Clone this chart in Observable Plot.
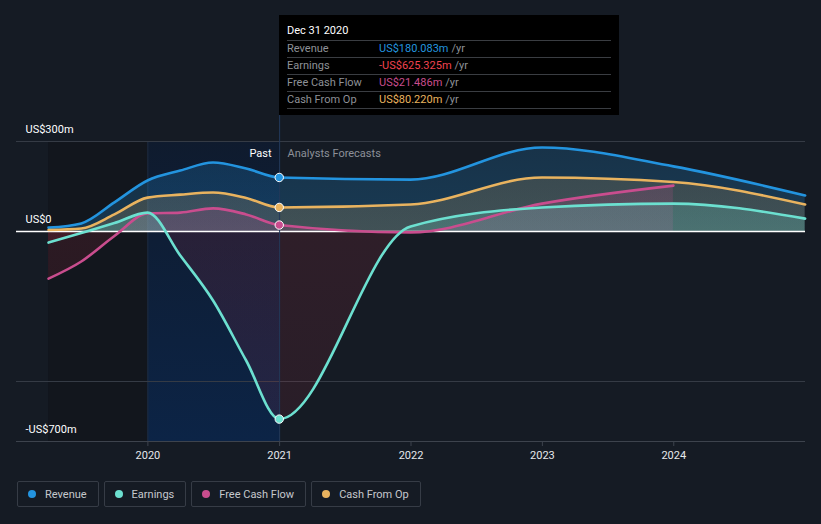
<!DOCTYPE html>
<html>
<head>
<meta charset="utf-8">
<script src="https://cdn.jsdelivr.net/npm/d3@7"></script>
<script src="https://cdn.jsdelivr.net/npm/@observablehq/plot@0.6"></script>
<style>
  html, body { margin: 0; padding: 0; background: #151b24; width: 821px; height: 524px; overflow: hidden; font-family: Roboto, "Noto Sans", sans-serif; }
  #wrap { position: relative; width: 821px; height: 524px; }
  #chart svg { display: block; }
  #tip { position: absolute; left: 279px; top: 15px; width: 340px; height: 100px; background: #000; box-sizing: border-box; padding: 9px 8px 0 8px; font-size: 11px; }
  #tip .title { color: #fff; height: 16px; line-height: 14px; border-bottom: 1px solid #3a3d42; }
  #tip .row { height: 16px; line-height: 16px; border-bottom: 1px solid #3a3d42; display: flex; color: #8e9197; }
  #tip .row .lab { width: 92px; }
  #tip .row .unit { color: #8e9197; margin-left: 3px; }
  #legend { position: absolute; left: 17px; top: 481px; display: flex; gap: 5px; }
  #legend .item { height: 26px; box-sizing: border-box; border: 1px solid #363c46; border-radius: 2px; display: flex; align-items: center; padding: 0 11px 0 10px; color: #c5c8cd; font-size: 11px; }
  #legend .dot { width: 8px; height: 8px; border-radius: 50%; margin-right: 9px; }
</style>
</head>
<body>
<div id="wrap">
  <div id="chart"></div>
  <div id="tip"></div>
  <div id="legend"></div>
</div>
<script>
// ---- data ----
const dates = ["2019-03-31","2019-06-30","2019-09-30","2019-12-31","2020-03-31","2020-06-30","2020-09-30","2020-12-31","2021-12-31","2022-12-31","2023-12-31","2024-12-31"];
const revenue = [13, 27, 97, 170, 203, 230, 210, 180.083, 173, 280, 217, 120];
const earnings = [-37, -5, 28, 63, -80, -230, -430, -625.325, 17, 80, 93, 43];
const freeCashFlow = [-157, -100, -15, 60, 63, 77, 57, 21.486, -3, 93, 153, null];
const cashFromOp = [5, 10, 57, 113, 123, 130, 112, 80.22, 90, 180, 165, 90];

const seriesNames = ["Revenue", "Earnings", "Free Cash Flow", "Cash From Op"];
const seriesColors = ["#2394df", "#6ce0d0", "#c94d8e", "#e9b35f"];
const tooltipDate = "Dec 31 2020";
const tooltipValues = ["US$180.083m", "-US$625.325m", "US$21.486m", "US$80.220m"];
const tooltipColors = ["#2394df", "#f0434f", "#c94d8e", "#e9b35f"];
const yTickValues = [300, 0, -700];
const yTickLabels = ["US$300m", "US$0", "-US$700m"];

// ---- build ----
const parse = d3.utcParse("%Y-%m-%d");
const allValues = [revenue, earnings, freeCashFlow, cashFromOp];
const series = seriesNames.map((name, i) => ({
  name, color: seriesColors[i], key: "s" + i,
  data: dates.map((d, j) => ({date: parse(d), value: allValues[i][j]})).filter(r => r.value != null)
}));
const nowDate = parse("2021-01-01");
const pastStart = parse("2020-01-01");
const dataStart = parse(dates[0]);

const marks = [
  Plot.rect([0], {x1: () => dataStart, x2: () => pastStart, y1: () => -700, y2: () => 300, fill: "#12161d"}),
  Plot.rect([0], {x1: () => pastStart, x2: () => nowDate, y1: () => -700, y2: () => 300, fill: "url(#g-past)"}),
  Plot.ruleX([pastStart], {y1: -700, y2: 300, stroke: "#1f2c3f", strokeWidth: 1}),
  Plot.ruleY([300, -500], {stroke: "#353b45", strokeWidth: 1}),
  Plot.ruleY([-700], {stroke: "#3d434d", strokeWidth: 1})
];
// areas
for (const s of [series[0], series[3], series[2], series[1]]) {
  marks.push(Plot.areaY(s.data, {x: "date", y: "value", curve: "monotone-x", fill: `url(#g-${s.key})`}));
}
marks.push(Plot.ruleY([0], {stroke: "#ffffff", strokeWidth: 1.5}));
marks.push(Plot.ruleX([nowDate], {y1: -700, y2: 387, stroke: "#22395a", strokeWidth: 1, clip: false}));
for (const s of [series[0], series[3], series[2], series[1]]) {
  marks.push(Plot.line(s.data, {x: "date", y: "value", curve: "monotone-x", stroke: s.color, strokeWidth: 2.6}));
}
for (const s of series) {
  marks.push(Plot.dot(s.data.filter(r => +r.date === +parse("2020-12-31")), {x: "date", y: "value", r: 4.2, fill: s.color, stroke: "#ffffff", strokeWidth: 1}));
}
marks.push(Plot.text(["Past"], {x: () => nowDate, y: () => 260, text: d => d, dx: -8, textAnchor: "end", fill: "#ffffff", fontSize: 11}));
marks.push(Plot.text(["Analysts Forecasts"], {x: () => nowDate, y: () => 260, text: d => d, dx: 8, textAnchor: "start", fill: "#8c9098", fontSize: 11}));
marks.push(Plot.text(yTickValues, {y: d => d, text: (d, i) => yTickLabels[i], frameAnchor: "left", dx: 9, dy: -12, textAnchor: "start", fill: "#ffffff", fontSize: 11}));
marks.push(Plot.axisX({ticks: d3.utcYear.every(1), tickFormat: d3.utcFormat("%Y"), tickSize: 5, stroke: "#3d434d", color: "#e6e8eb", fontSize: 11, tickPadding: 5, filter: d => d.getUTCFullYear() >= 2020 && d.getUTCFullYear() <= 2024}));

const plot = Plot.plot({
  width: 821,
  height: 470,
  marginLeft: 16,
  marginRight: 16,
  marginTop: 141,
  marginBottom: 29,
  style: {background: "transparent", fontFamily: "Roboto, sans-serif"},
  x: {type: "utc", domain: [parse("2019-01-01"), parse("2025-01-01")]},
  y: {domain: [-700, 300], axis: null},
  marks
});

// gradients
const yScale = plot.scale("y");
const yTop = yScale.apply(300), yBot = yScale.apply(-700), yZero = yScale.apply(0);
const zOff = (yZero - yTop) / (yBot - yTop);
const svg = d3.select(plot);
const defs = svg.insert("defs", ":first-child");
const past = defs.append("linearGradient").attr("id", "g-past").attr("x1", 0).attr("y1", 0).attr("x2", 0).attr("y2", 1);
past.append("stop").attr("offset", 0).attr("stop-color", "#0f1b2e");
past.append("stop").attr("offset", 1).attr("stop-color", "#0c2446");
const opac = {s0: 0.16, s1: 0.14, s2: 0.12, s3: 0.12};
for (const s of series) {
  const g = defs.append("linearGradient").attr("id", "g-" + s.key).attr("gradientUnits", "userSpaceOnUse")
    .attr("x1", 0).attr("x2", 0).attr("y1", yTop).attr("y2", yBot);
  g.append("stop").attr("offset", 0).attr("stop-color", s.color).attr("stop-opacity", opac[s.key] * 1.2);
  g.append("stop").attr("offset", zOff).attr("stop-color", s.color).attr("stop-opacity", opac[s.key] * 1.6);
  g.append("stop").attr("offset", zOff).attr("stop-color", "#d8334a").attr("stop-opacity", 0.13);
  g.append("stop").attr("offset", 1).attr("stop-color", "#d8334a").attr("stop-opacity", 0.1);
}
document.getElementById("chart").appendChild(plot);

// tooltip
const tip = d3.select("#tip");
tip.append("div").attr("class", "title").text(tooltipDate);
seriesNames.forEach((n, i) => {
  const row = tip.append("div").attr("class", "row");
  row.append("span").attr("class", "lab").text(n);
  row.append("span").style("color", tooltipColors[i]).text(tooltipValues[i]);
  row.append("span").attr("class", "unit").text("/yr");
});

// legend
const lg = d3.select("#legend");
seriesNames.forEach((n, i) => {
  const it = lg.append("div").attr("class", "item");
  it.append("span").attr("class", "dot").style("background", seriesColors[i]);
  it.append("span").text(n);
});
</script>
</body>
</html>
